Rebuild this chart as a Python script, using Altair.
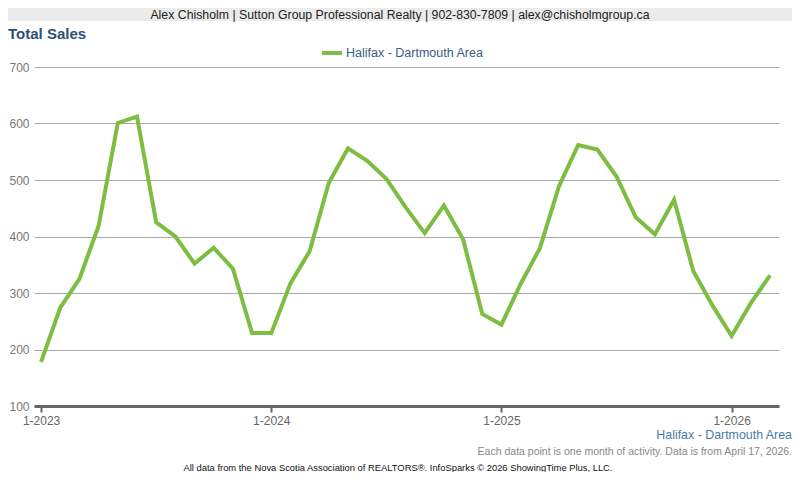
import altair as alt
import pandas as pd

# ---- data ----
months = [
    "2023-01", "2023-02", "2023-03", "2023-04", "2023-05", "2023-06",
    "2023-07", "2023-08", "2023-09", "2023-10", "2023-11", "2023-12",
    "2024-01", "2024-02", "2024-03", "2024-04", "2024-05", "2024-06",
    "2024-07", "2024-08", "2024-09", "2024-10", "2024-11", "2024-12",
    "2025-01", "2025-02", "2025-03", "2025-04", "2025-05", "2025-06",
    "2025-07", "2025-08", "2025-09", "2025-10", "2025-11", "2025-12",
    "2026-01", "2026-02", "2026-03",
]
sales = [
    178, 274, 325, 419, 601, 612, 425, 400, 352, 380, 343, 229,
    229, 317, 374, 495, 556, 534, 502, 452, 406, 455, 395, 263,
    244, 316, 379, 489, 562, 554, 506, 434, 404, 465, 339, 278,
    224, 282, 331,
]
series_name = "Halifax - Dartmouth Area"
y_ticks = [100, 200, 300, 400, 500, 600, 700]
x_tick_idx = [0, 12, 24, 36]

header_text = "Alex Chisholm | Sutton Group Professional Realty | 902-830-7809 | alex@chisholmgroup.ca"
title_text = "Total Sales"
note_text = "Each data point is one month of activity. Data is from April 17, 2026."
credit_text = "All data from the Nova Scotia Association of REALTORS®. InfoSparks © 2026 ShowingTime Plus, LLC."

df = pd.DataFrame({"idx": list(range(len(months))), "month": months, "sales": sales})

FONT = "Liberation Sans"
GREEN = "#7cbd42"
LEFT, TOP = 26, 59          # padding to the plot area (page margin is 8)
W, H = 745, 339

line = alt.Chart(df).mark_line(color=GREEN, strokeWidth=4, strokeJoin="miter").encode(
    x=alt.X(
        "idx:Q",
        scale=alt.Scale(domain=[-0.37, 38.47], nice=False, zero=False),
        axis=alt.Axis(
            values=x_tick_idx,
            labelExpr="'1-' + (2023 + datum.value / 12)",
            title=None,
            grid=False,
            domain=True,
            domainColor="#666666",
            domainWidth=3,
            ticks=True,
            tickColor="#666666",
            tickSize=6,
            tickWidth=2,
            labelColor="#666666",
            labelFontSize=12,
            labelFont=FONT,
            labelPadding=3,
        ),
    ),
    y=alt.Y(
        "sales:Q",
        scale=alt.Scale(domain=[100, 700], nice=False, zero=False),
        axis=alt.Axis(
            values=y_ticks,
            title=None,
            grid=True,
            gridColor="#aaaaaa",
            gridWidth=1,
            domain=False,
            ticks=False,
            labelColor="#777777",
            labelFontSize=12,
            labelFont=FONT,
            labelPadding=5,
        ),
    ),
)

def txt(text, x, y, size, color, align="left", weight="normal"):
    return alt.Chart(pd.DataFrame({"t": [text]})).mark_text(
        align=align, baseline="middle", fontSize=size, font=FONT, color=color, fontWeight=weight
    ).encode(x=alt.value(x - 8 - LEFT), y=alt.value(y - 8 - TOP), text="t:N")

header_bar = alt.Chart(pd.DataFrame({"a": [0]})).mark_rect(color="#ebebeb").encode(
    x=alt.value(-LEFT), x2=alt.value(784 - LEFT), y=alt.value(-TOP), y2=alt.value(21 - 8 - TOP)
)
legend_swatch = alt.Chart(pd.DataFrame({"a": [0]})).mark_rule(color=GREEN, strokeWidth=4).encode(
    x=alt.value(322 - 8 - LEFT), x2=alt.value(342 - 8 - LEFT), y=alt.value(53 - 8 - TOP)
)

chart = alt.layer(
    header_bar,
    txt(header_text, 400, 14.5, 12.3, "#222222", align="center"),
    txt(title_text, 8, 34, 15, "#2d5075", weight="bold"),
    legend_swatch,
    txt(series_name, 346, 53, 12.5, "#3a5b82"),
    line,
    txt(series_name, 792, 435, 12.4, "#4b79a8", align="right"),
    txt(note_text, 792, 452, 10.5, "#888888", align="right"),
    txt(credit_text, 398, 468, 9.4, "#111111", align="center"),
).properties(
    width=W,
    height=H,
    autosize=alt.AutoSizeParams(type="none"),
    padding={"left": LEFT, "top": TOP, "right": 784 - LEFT - W, "bottom": 464 - TOP - H},
).configure_view(stroke=None)

chart.save("out.html", embed_options={"renderer": "svg", "actions": False})
